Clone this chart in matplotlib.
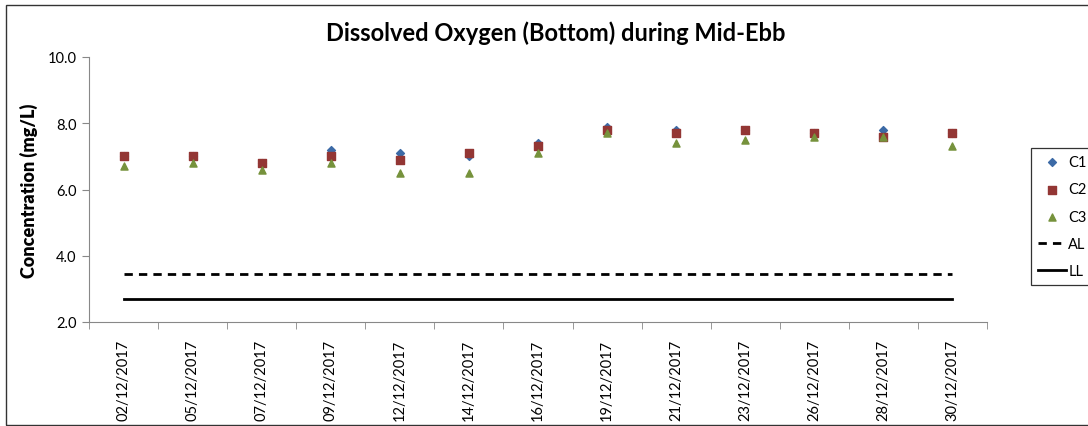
import numpy as np
import matplotlib.pyplot as plt
from matplotlib.patches import Rectangle

dates = ["02/12/2017", "05/12/2017", "07/12/2017", "09/12/2017", "12/12/2017",
         "14/12/2017", "16/12/2017", "19/12/2017", "21/12/2017", "23/12/2017",
         "26/12/2017", "28/12/2017", "30/12/2017"]
c1 = [7.0, 7.0, 6.8, 7.2, 7.1, 7.0, 7.4, 7.9, 7.8, 7.8, 7.7, 7.8, 7.7]
c2 = [7.0, 7.0, 6.8, 7.0, 6.9, 7.1, 7.3, 7.8, 7.7, 7.8, 7.7, 7.6, 7.7]
c3 = [6.7, 6.8, 6.6, 6.8, 6.5, 6.5, 7.1, 7.7, 7.4, 7.5, 7.6, 7.6, 7.3]
al_level = 3.44
ll_level = 2.7

plt.rcParams["font.family"] = ["Lato", "DejaVu Sans"]

fig = plt.figure(figsize=(10.88, 4.27), dpi=100)
ax = fig.add_axes([89 / 1088, 1 - 323 / 427, (987 - 89) / 1088, (323 - 58) / 427])

x = np.arange(len(dates))
ax.plot(x, [ll_level] * len(x), color="black", lw=2.0, label="LL", zorder=2)
ax.plot(x, [al_level] * len(x), color="black", lw=2.0, ls=(0, (3, 2.2)), label="AL", zorder=2)
ax.scatter(x, c1, marker="D", s=16, color="#3C6AA6", label="C1", zorder=3)
ax.scatter(x, c2, marker="s", s=38, color="#933634", label="C2", zorder=4)
ax.scatter(x, c3, marker="^", s=26, color="#76923C", label="C3", zorder=5)

ax.set_xlim(-0.5, len(dates) - 0.5)
ax.set_ylim(2.0, 10.0)
yt = np.arange(2.0, 10.01, 2.0)
ax.set_yticks(yt)
ax.set_yticklabels([f"{v:.1f}" for v in yt])
ax.set_xticks(x)
ax.set_xticklabels(dates, rotation=90)
ax.set_xticks(np.arange(-0.5, len(dates), 1.0), minor=True)
ax.tick_params(axis="x", which="major", length=0, pad=12, labelsize=10.5)
ax.tick_params(axis="x", which="minor", length=5, color="#888888")
ax.tick_params(axis="y", length=5, color="#888888", labelsize=10.5, pad=4)

for s in ["top", "right"]:
    ax.spines[s].set_visible(False)
for s in ["left", "bottom"]:
    ax.spines[s].set_color("#888888")

ax.set_ylabel("Concentration (mg/L)", fontsize=13, fontweight="heavy", labelpad=7)
fig.text(556 / 1088, 1 - 33 / 427, "Dissolved Oxygen (Bottom) during Mid-Ebb",
         ha="center", va="center", fontsize=17, fontweight="bold")

# legend sits at the right edge; shifted a touch left so the labels stay readable
handles, labels = ax.get_legend_handles_labels()
order = [labels.index(k) for k in ["C1", "C2", "C3", "AL", "LL"]]
leg = ax.legend([handles[i] for i in order], [labels[i] for i in order],
                loc="upper left", bbox_to_anchor=(1031 / 1088, 1 - 149 / 427),
                bbox_transform=fig.transFigure, frameon=True, fancybox=False,
                edgecolor="black", fontsize=10.5, handlelength=1.9,
                labelspacing=0.9, borderpad=0.5, borderaxespad=0,
                handletextpad=0.15)
leg.get_frame().set_linewidth(0.9)

fig.patches.append(Rectangle((6 / 1088, 1 / 427), 1.1, 1 - 7 / 427,
                             transform=fig.transFigure, fill=False,
                             edgecolor="#333333", lw=1.0))

fig.savefig("out.png", dpi=100)
